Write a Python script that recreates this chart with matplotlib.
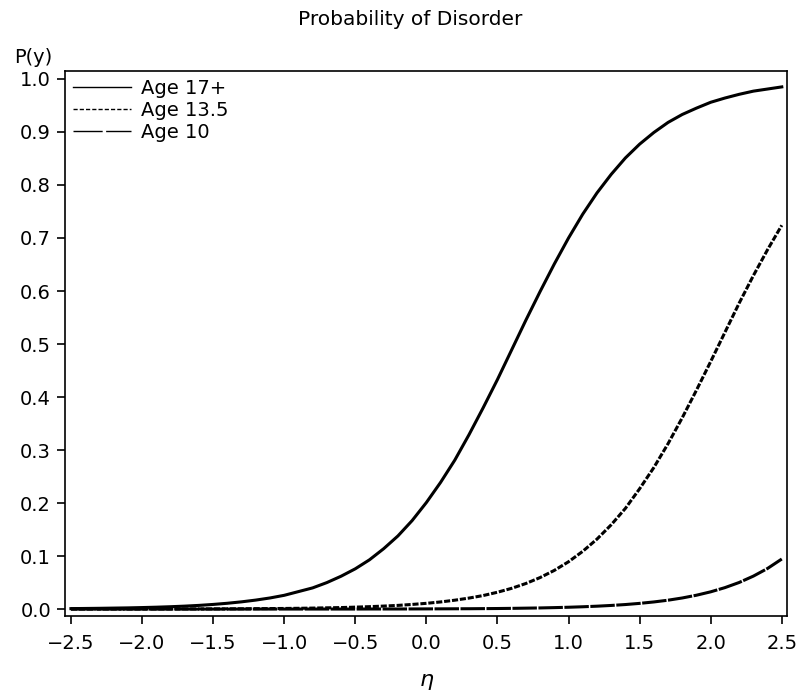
import matplotlib
matplotlib.use("Agg")
import matplotlib.pyplot as plt
from matplotlib.lines import Line2D

# ── Data (every 0.1 on the eta axis) ──────────────────────────────────────────
eta = [-2.5, -2.4, -2.3, -2.2, -2.1, -2.0, -1.9, -1.8, -1.7, -1.6,
       -1.5, -1.4, -1.3, -1.2, -1.1, -1.0, -0.9, -0.8, -0.7, -0.6,
       -0.5, -0.4, -0.3, -0.2, -0.1, 0.0, 0.1, 0.2, 0.3, 0.4,
       0.5, 0.6, 0.7, 0.8, 0.9, 1.0, 1.1, 1.2, 1.3, 1.4,
       1.5, 1.6, 1.7, 1.8, 1.9, 2.0, 2.1, 2.2, 2.3, 2.4, 2.5]

p_age17 = [0.0009, 0.0012, 0.0015, 0.0019, 0.0023, 0.0029, 0.0036, 0.0045, 0.0056, 0.0070,
           0.0088, 0.011, 0.0137, 0.017, 0.021, 0.026, 0.033, 0.040, 0.050, 0.062,
           0.076, 0.093, 0.114, 0.138, 0.167, 0.201, 0.239, 0.281, 0.329, 0.380,
           0.433, 0.489, 0.545, 0.599, 0.651, 0.700, 0.745, 0.785, 0.820, 0.851,
           0.877, 0.899, 0.918, 0.933, 0.945, 0.956, 0.964, 0.971, 0.977, 0.981, 0.985]

p_age135 = [0.0001, 0.0001, 0.0001, 0.0001, 0.0001, 0.0001, 0.0002, 0.0002, 0.0003, 0.0003,
            0.0004, 0.0005, 0.0006, 0.0008, 0.0010, 0.0012, 0.0015, 0.0019, 0.0024, 0.0029,
            0.0037, 0.0046, 0.0057, 0.0070, 0.0088, 0.0109, 0.0135, 0.0168, 0.0208, 0.0256,
            0.0318, 0.0392, 0.0483, 0.0595, 0.0730, 0.0893, 0.109, 0.132, 0.159, 0.190,
            0.227, 0.267, 0.312, 0.361, 0.413, 0.467, 0.522, 0.577, 0.629, 0.678, 0.724]

p_age10 = [0.0, 0.0, 0.0, 0.0, 0.0, 0.0, 0.0, 0.0, 0.0, 0.0,
           0.0, 0.0, 0.0001, 0.0001, 0.0001, 0.0001, 0.0001, 0.0001, 0.0001, 0.0001,
           0.0001, 0.0002, 0.0002, 0.0002, 0.0003, 0.0004, 0.0005, 0.0006, 0.0007, 0.0009,
           0.0011, 0.0014, 0.0018, 0.0022, 0.0028, 0.0035, 0.0044, 0.0055, 0.0069, 0.0086,
           0.0108, 0.0135, 0.0168, 0.0210, 0.0262, 0.0326, 0.0405, 0.0502, 0.0622, 0.0767, 0.0945]

labels = ["Age 17+", "Age 13.5", "Age 10"]
x_ticks = [-2.5, -2.0, -1.5, -1.0, -0.5, 0.0, 0.5, 1.0, 1.5, 2.0, 2.5]
y_ticks = [0.0, 0.1, 0.2, 0.3, 0.4, 0.5, 0.6, 0.7, 0.8, 0.9, 1.0]

# ── Plot ──────────────────────────────────────────────────────────────────────
plt.rcParams["font.family"] = "DejaVu Sans"
fig = plt.figure(figsize=(8.02, 6.94), dpi=100)
ax = fig.add_axes([0.081, 0.1124, 0.9, 0.7853])

lw = 2.2
ax.plot(eta, p_age17, color="black", linewidth=lw, linestyle="-")
ax.plot(eta, p_age135, color="black", linewidth=lw, linestyle=(0, (2.0, 0.6)))
ax.plot(eta, p_age10, color="black", linewidth=lw, linestyle=(0, (8.0, 0.5)))

ax.set_xlim(-2.542, 2.535)
ax.set_ylim(-0.013, 1.015)
ax.set_xticks(x_ticks)
ax.set_xticklabels([f"{v:.1f}".replace("-", "\u2212") for v in x_ticks])
ax.set_yticks(y_ticks)
ax.set_yticklabels([f"{v:.1f}" for v in y_ticks])
ax.tick_params(direction="out", length=6, width=1.2, labelsize=14, pad=4)
ax.tick_params(axis="x", pad=7)
for sp in ax.spines.values():
    sp.set_linewidth(1.2)

handles = [
    Line2D([], [], color="black", linewidth=1.0, linestyle="-"),
    Line2D([], [], color="black", linewidth=1.0, linestyle=(0, (3, 1.5))),
    Line2D([], [], color="black", linewidth=1.0, linestyle=(0, (21, 2.5))),
]
ax.legend(handles, labels, loc="upper left", frameon=False, fontsize=14,
          handlelength=3.0, handletextpad=0.5, labelspacing=0.15,
          borderaxespad=0.2, borderpad=0.2)

fig.text(0.512, 0.972, "Probability of Disorder", ha="center", va="center", fontsize=14.5)
fig.text(0.018, 0.917, "P(y)", ha="left", va="center", fontsize=14)
fig.text(0.532, 0.017, r"$\eta$", ha="center", va="center", fontsize=16)

fig.savefig("out.png", dpi=100)
